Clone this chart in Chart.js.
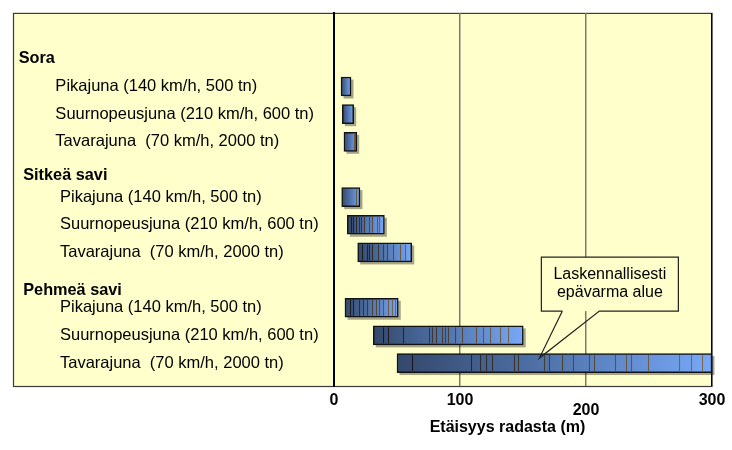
<!DOCTYPE html>
<html><head><meta charset="utf-8">
<script src="https://cdn.jsdelivr.net/npm/chart.js@4"></script>
<style>html,body{margin:0;padding:0;background:#fff}</style>
</head><body>
<canvas id="c" width="732" height="450"></canvas>
<script>
// ---- data ----
const soilGroups = ['Sora', 'Sitkeä savi', 'Pehmeä savi'];
const trainTypes = ['Pikajuna (140 km/h, 500 tn)', 'Suurnopeusjuna (210 km/h, 600 tn)', 'Tavarajuna  (70 km/h, 2000 tn)'];
// distance range (m), one entry per soil group x train type (row order)
const distStart = [5.6, 6.6, 7.9, 6.1, 10.6, 18.8, 8.7, 31.2, 50];
const distEnd   = [13.5, 15.6, 18, 20.6, 40, 61.7, 51, 150.2, 300];
// internal segment boundaries visible inside each bar (m)
const segmentBreaks = [
  [], [], [16],
  [17.5],
  [13.2, 15.3, 17.5, 19.6, 21.7, 23.8, 28, 30, 33.9, 36],
  [22.5, 26.4, 28, 29.9, 35.2, 38.6, 41.8, 47.1, 52.4, 56.3],
  [12.7, 15.3, 20.1, 23.3, 26.4, 29.9, 33.3, 36, 39.2, 43.1, 45.8, 48.4],
  [39, 43, 54.5, 75.7, 77.5, 81, 85.5, 88, 90.7, 96, 101.3, 113, 118.5, 124, 132, 138.3],
  [62, 109, 116, 121, 125, 143, 146, 167, 171, 181, 190, 202, 206, 223, 232, 236, 249, 274, 283, 292]
];
const xTicks = [0, 100, 200, 300];
const xTitle = 'Etäisyys radasta (m)';
const calloutLines = ['Laskennallisesti', 'epävarma alue'];
const calloutValue = 163;

// ---- rows (headers + train rows) ----
const rows = [];
soilGroups.forEach((g, gi) => {
  rows.push({ label: g, header: true, group: gi });
  trainTypes.forEach((t, ti) => rows.push({ label: t, header: false, group: gi, k: gi * 3 + ti }));
});
const barData = [];
rows.forEach((r, i) => { if (!r.header) barData.push({ y: i, x: [distStart[r.k], distEnd[r.k]], k: r.k }); });

const FONT = "'Liberation Sans', Arial, Helvetica, sans-serif";
const headerNudge = ['19.2px', '12px', '20px'];

// forces the canvas to rasterize pending drawing (avoids dropped text in headless rendering)
function flush(chart) { chart.ctx.getImageData(445, 392, 30, 16); }

function barGradient(c) {
  const chart = c.chart;
  if (!chart.chartArea || !c.raw || !chart.scales.x) return '#5a80c0';
  const xs = chart.scales.x;
  const x0 = xs.getPixelForValue(c.raw.x[0]);
  const x1 = xs.getPixelForValue(c.raw.x[1]);
  const g = chart.ctx.createLinearGradient(x0, 0, x1, 0);
  g.addColorStop(0, '#33486b');
  g.addColorStop(0.5, '#5276ae');
  g.addColorStop(1, '#78a8f8');
  return g;
}

const boxPlugin = {
  id: 'box',
  beforeDraw(chart) {
    const { ctx, chartArea: a } = chart;
    ctx.save();
    ctx.fillStyle = '#ffffcc';
    ctx.fillRect(13, a.top, a.right - 13, a.bottom - a.top);
    ctx.strokeStyle = '#3a3a3a';
    ctx.lineWidth = 1.2;
    ctx.strokeRect(13.5, a.top + 0.5, a.right - 13.5, a.bottom - a.top);
    ctx.restore();
  }
};
const flushA = { id: 'flushA', beforeDatasetsDraw(chart) { flush(chart); }, afterDatasetsDraw(chart) { flush(chart); } };

const shadowPlugin = {
  id: 'barShadow',
  beforeDatasetsDraw(chart) {
    const ctx = chart.ctx;
    const meta = chart.getDatasetMeta(0);
    ctx.save();
    ctx.fillStyle = 'rgba(0,0,0,0.35)';
    meta.data.forEach(el => {
      const p = el.getProps(['x', 'base', 'y', 'height'], true);
      const left = Math.min(p.x, p.base), w = Math.abs(p.x - p.base);
      ctx.fillRect(left + 2.5, p.y - p.height / 2 + 2.5, w, p.height);
    });
    ctx.restore();
  }
};

const stripePlugin = {
  id: 'stripes',
  afterDatasetsDraw(chart) {
    const ctx = chart.ctx, xs = chart.scales.x;
    const meta = chart.getDatasetMeta(0);
    ctx.save();
    ctx.lineWidth = 1.1;
    meta.data.forEach((el, j) => {
      const k = barData[j].k;
      const p = el.getProps(['y', 'height'], true);
      const top = p.y - p.height / 2 + 1.5, bot = p.y + p.height / 2 - 1.5;
      segmentBreaks[k].forEach(v => {
        const f = (v - distStart[k]) / (distEnd[k] - distStart[k]);
        const r = Math.round(20 + 110 * f), g = Math.round(20 + 90 * f), b = Math.round(25 + 55 * f);
        ctx.strokeStyle = `rgb(${r},${g},${b})`;
        const px = Math.round(xs.getPixelForValue(v)) + 0.5;
        ctx.beginPath(); ctx.moveTo(px, top); ctx.lineTo(px, bot); ctx.stroke();
      });
    });
    ctx.restore();
  }
};

const calloutPlugin = {
  id: 'callout',
  afterDraw(chart) {
    const ctx = chart.ctx, xs = chart.scales.x, ys = chart.scales.y;
    const tipX = xs.getPixelForValue(calloutValue);
    const tipY = ys.getPixelForValue(rows.length - 1) - 5;
    const L = tipX + 2, R = tipX + 139, T = tipY - 101, B = tipY - 47;
    const p1 = tipX + 23, p2 = tipX + 60;
    ctx.save();
    ctx.fillStyle = '#ffffcc';
    ctx.fillRect(L, T, R - L, B - T);
    ctx.strokeStyle = '#222';
    ctx.lineWidth = 1.2;
    ctx.beginPath();
    ctx.moveTo(p1, B); ctx.lineTo(L, B); ctx.lineTo(L, T); ctx.lineTo(R, T); ctx.lineTo(R, B);
    ctx.lineTo(p2, B); ctx.lineTo(tipX, tipY); ctx.lineTo(p1, B);
    ctx.stroke();
    ctx.fillStyle = '#000';
    ctx.font = '16px ' + FONT;
    ctx.textAlign = 'center';
    ctx.textBaseline = 'middle';
    calloutLines.forEach((t, i) => ctx.fillText(t, (L + R) / 2, T + 18 + i * 18));
    ctx.restore();
  }
};
const flushB = { id: 'flushB', afterDraw(chart) { flush(chart); } };

new Chart(document.getElementById('c'), {
  type: 'bar',
  data: { datasets: [{ data: barData, backgroundColor: barGradient, borderColor: '#111', borderWidth: 1.5, borderSkipped: false, barThickness: 19 }] },
  options: {
    responsive: false, animation: false, indexAxis: 'y',
    layout: { padding: { left: 18.7, top: 11, right: 20, bottom: 0 } },
    plugins: { legend: { display: false }, tooltip: { enabled: false } },
    scales: {
      x: {
        type: 'linear', position: 'bottom', min: 0, max: 300,
        afterBuildTicks: s => { s.ticks = xTicks.map(v => ({ value: v })); },
        afterFit: s => { s.height = 64; },
        grid: { drawTicks: false,
          color: c => (c.tick && c.tick.value === 0) ? 'rgba(0,0,0,0)' : (c.tick && c.tick.value === 300 ? '#000' : '#7a7a70'),
          lineWidth: c => (c.tick && c.tick.value === 300) ? 1.2 : 1.5 },
        border: { display: false },
        ticks: { padding: 5, autoSkip: false, maxRotation: 0, color: '#000',
          font: c => ({ family: FONT, size: 16, weight: 'bold', lineHeight: (c.tick && c.tick.value === 200) ? 2.5 : 1.2 }) },
        title: { display: true, text: xTitle + '       ', color: '#000', font: { family: FONT, size: 16, weight: 'bold' }, padding: { top: 0, bottom: 13 } }
      },
      y: {
        type: 'linear', reverse: true, min: -1.662, max: 11.83, offset: false,
        afterBuildTicks: s => { s.ticks = rows.map((r, i) => ({ value: i })); },
        afterFit: s => { s.width = 315.3; },
        grid: { display: false, offset: false },
        border: { display: true, color: '#000', width: 2 },
        ticks: { crossAlign: 'far', autoSkip: false, color: '#000',
          font: c => { const r = rows[c.index]; if (r && r.header) return { family: FONT, size: 16.3, weight: 'bold', lineHeight: headerNudge[r.group] }; return { family: FONT, size: 16.5, weight: 'normal' }; },
          callback: (v, i) => { const r = rows[i]; if (!r) return ''; if (r.header) return r.group ? ['', ' ' + r.label] : r.label; return ' '.repeat(r.group ? 9 : 8) + r.label; } }
      }
    }
  },
  plugins: [boxPlugin, flushA, shadowPlugin, stripePlugin, calloutPlugin, flushB]
});
</script>
</body></html>
